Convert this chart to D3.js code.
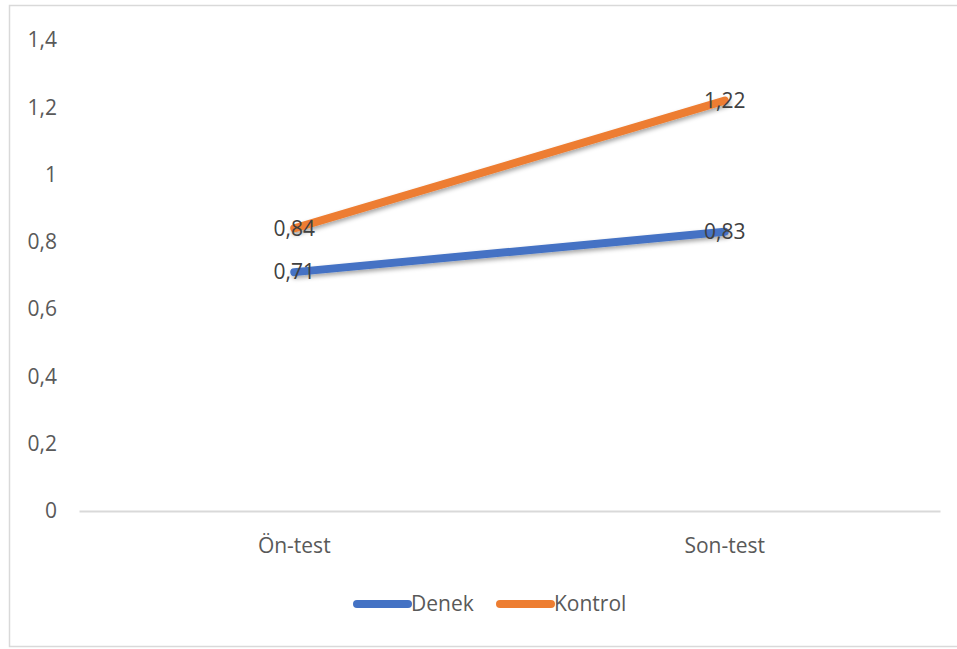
<!DOCTYPE html>
<html>
<head>
<meta charset="utf-8">
<script src="https://cdn.jsdelivr.net/npm/d3@7"></script>
<style>
  html, body { margin: 0; padding: 0; background: #fff; }
  svg { display: block; }
  text { font-family: "Open Sans", "Liberation Sans", sans-serif; }
</style>
</head>
<body>
<svg id="chart" width="957" height="649"></svg>
<script>
// Test phases on the x axis
const categories = ["Ön-test", "Son-test"];
// Mean scores per group
const denek = [0.71, 0.83];
const kontrol = [0.84, 1.22];
const seriesNames = ["Denek", "Kontrol"];
const yTicks = [0, 0.2, 0.4, 0.6, 0.8, 1, 1.2, 1.4];

const series = [
  { name: seriesNames[0], values: denek, color: "#4472C4" },
  { name: seriesNames[1], values: kontrol, color: "#ED7D31" }
];

const svg = d3.select("#chart");
const W = 957, H = 649;
const FS = 21;
const fmt = v => String(v).replace(".", ",");

// chart frame
svg.append("rect")
  .attr("x", 9.5).attr("y", 5.5)
  .attr("width", W + 10).attr("height", 641)
  .attr("fill", "#fff").attr("stroke", "#d9d9d9").attr("stroke-width", 1.5);

const plot = { left: 79, right: 940, top: 40, bottom: 511 };

const x = d3.scaleBand().domain(categories).range([plot.left, plot.right]);
const y = d3.scaleLinear().domain([0, 1.4]).range([plot.bottom, plot.top]);

// shadow filter for the lines
const defs = svg.append("defs");
const f = defs.append("filter").attr("id", "shadow")
  .attr("x", "-10%").attr("y", "-50%").attr("width", "120%").attr("height", "200%");
f.append("feDropShadow").attr("dx", 1.5).attr("dy", 2.5).attr("stdDeviation", 2)
  .attr("flood-color", "#000").attr("flood-opacity", 0.35);

// y axis labels
const yAxis = d3.axisLeft(y).tickValues(yTicks).tickFormat(fmt).tickSize(0).tickPadding(0);
const ya = svg.append("g").attr("transform", `translate(57,0)`).call(yAxis);
ya.select(".domain").remove();
ya.selectAll("text").attr("font-size", FS).attr("fill", "#595959")
  .attr("font-family", '"Open Sans", sans-serif');

// x axis baseline
const xAxis = d3.axisBottom(x).tickSize(0).tickPadding(0);
const xa = svg.append("g").attr("transform", `translate(0,${plot.bottom})`).call(xAxis);
xa.select(".domain").attr("stroke", "#d9d9d9").attr("stroke-width", 2);
xa.selectAll("text").attr("font-size", FS).attr("fill", "#595959")
  .attr("y", 42).attr("dy", "0").attr("font-family", '"Open Sans", sans-serif');

// lines
const line = d3.line()
  .x((d, i) => x(categories[i]) + x.bandwidth() / 2)
  .y(d => y(d));

series.forEach(s => {
  svg.append("path")
    .datum(s.values)
    .attr("d", line)
    .attr("fill", "none")
    .attr("stroke", s.color)
    .attr("stroke-width", 8)
    .attr("stroke-linecap", "round")
    .attr("filter", "url(#shadow)");
});

// data labels
series.forEach(s => {
  svg.append("g").selectAll("text")
    .data(s.values)
    .join("text")
    .attr("x", (d, i) => x(categories[i]) + x.bandwidth() / 2)
    .attr("y", d => y(d))
    .attr("dy", "0.35em")
    .attr("text-anchor", "middle")
    .attr("font-size", FS)
    .attr("fill", "#404040")
    .text(fmt);
});

// legend
const legend = svg.append("g");
const legendItems = [
  { s: series[0], x0: 357 },
  { s: series[1], x0: 500 }
];
legendItems.forEach(it => {
  legend.append("line")
    .attr("x1", it.x0).attr("x2", it.x0 + 51)
    .attr("y1", 604).attr("y2", 604)
    .attr("stroke", it.s.color).attr("stroke-width", 8)
    .attr("stroke-linecap", "round");
  legend.append("text")
    .attr("x", it.x0 + 54).attr("y", 604).attr("dy", "0.35em")
    .attr("font-size", FS).attr("fill", "#595959")
    .text(it.s.name);
});
</script>
</body>
</html>
